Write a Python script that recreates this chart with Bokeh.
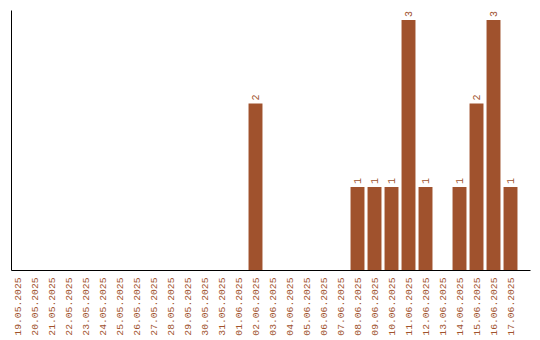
from bokeh.plotting import figure
from bokeh.models import ColumnDataSource, Range1d, FixedTicker
from bokeh.core.properties import value
from bokeh.embed import file_html
from bokeh.resources import INLINE

dates = ["19.05.2025", "20.05.2025", "21.05.2025", "22.05.2025", "23.05.2025",
         "24.05.2025", "25.05.2025", "26.05.2025", "27.05.2025", "28.05.2025",
         "29.05.2025", "30.05.2025", "31.05.2025", "01.06.2025", "02.06.2025",
         "03.06.2025", "04.06.2025", "05.06.2025", "06.06.2025", "07.06.2025",
         "08.06.2025", "09.06.2025", "10.06.2025", "11.06.2025", "12.06.2025",
         "13.06.2025", "14.06.2025", "15.06.2025", "16.06.2025", "17.06.2025"]
counts = [0, 0, 0, 0, 0, 0, 0, 0, 0, 0, 0, 0, 0, 0, 2,
          0, 0, 0, 0, 0, 1, 1, 1, 3, 1, 0, 1, 2, 3, 1]

COLOR = "#A0522D"
FONT = "Liberation Mono"

idx = list(range(len(dates)))
src = ColumnDataSource(dict(x=idx, y=counts))
nz = [i for i, c in enumerate(counts) if c > 0]
lsrc = ColumnDataSource(dict(x=[idx[i] for i in nz], y=[counts[i] for i in nz],
                             lbl=[str(counts[i]) for i in nz]))

p = figure(width=540, height=340, output_backend="svg", toolbar_location=None,
           x_range=Range1d(-0.353, 30.176), y_range=Range1d(0, 3.114),
           min_border_left=11, min_border_right=10, min_border_top=10,
           min_border_bottom=70)
p.outline_line_color = None
p.grid.visible = False
p.background_fill_color = "white"
p.border_fill_color = "white"

p.vbar(x="x", top="y", width=0.82, source=src, fill_color=COLOR,
       line_color=None)
p.text(x="x", y="y", text="lbl", source=lsrc, angle=1.5708,
       text_align="left", text_baseline="middle", x_offset=0, y_offset=-3,
       text_font=value(FONT), text_font_size="10px", text_color=COLOR)

xa = p.xaxis[0]
xa.ticker = FixedTicker(ticks=idx)
xa.major_label_overrides = {i: d for i, d in zip(idx, dates)}
xa.major_label_orientation = 1.5708
xa.major_tick_line_color = None
xa.major_tick_out = 0
xa.major_tick_in = 0
xa.minor_tick_line_color = None
xa.major_label_standoff = 7
xa.major_label_text_font = FONT
xa.major_label_text_font_size = "9.7px"
xa.major_label_text_color = COLOR
xa.axis_line_color = "black"
xa.axis_line_width = 1

ya = p.yaxis[0]
ya.ticker = FixedTicker(ticks=[])
ya.major_tick_line_color = None
ya.major_tick_out = 0
ya.major_tick_in = 0
ya.minor_tick_line_color = None
ya.major_label_standoff = 0
ya.axis_line_color = "black"
ya.axis_line_width = 1

open("out.html", "w").write(file_html(p, INLINE))
